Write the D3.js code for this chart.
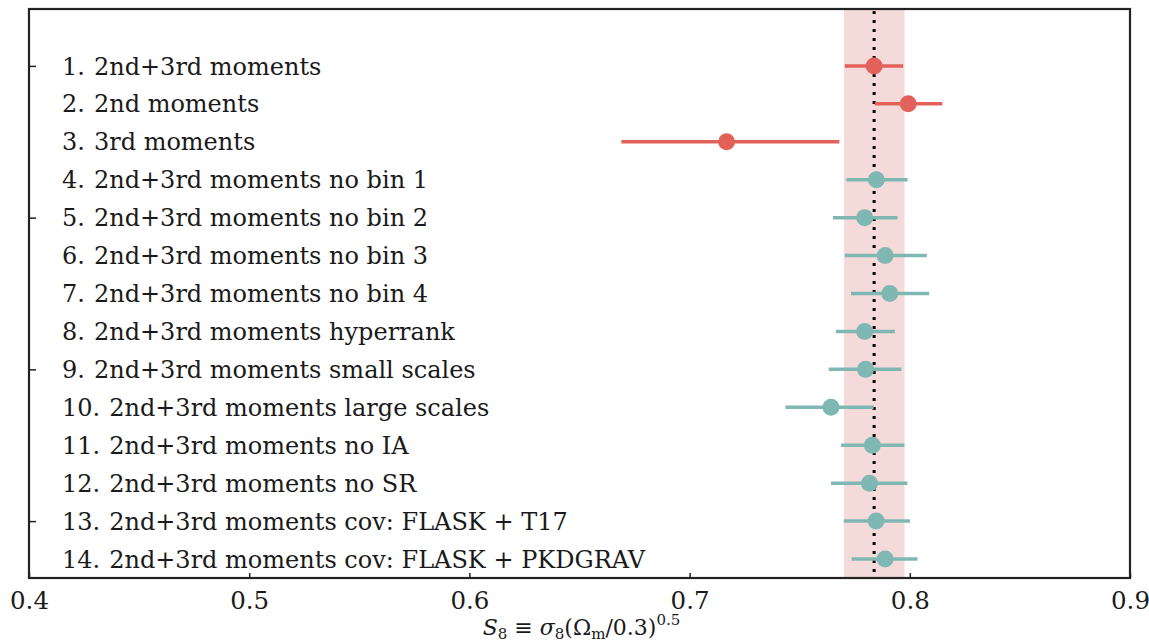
<!DOCTYPE html>
<html>
<head>
<meta charset="utf-8">
<script src="https://cdn.jsdelivr.net/npm/d3@7"></script>
<style>
  body { margin: 0; background: #fff; }
  svg { display: block; }
  text { font-family: "DejaVu Serif", "Liberation Serif", serif; fill: #1a1a1a; }
</style>
</head>
<body>
<svg id="chart" width="1149" height="642"></svg>
<script>
// S8 constraints from moment-based analyses
const itemNumbers = ["1.", "2.", "3.", "4.", "5.", "6.", "7.", "8.", "9.", "10.", "11.", "12.", "13.", "14."];
const labels = [
  "2nd+3rd moments",
  "2nd moments",
  "3rd moments",
  "2nd+3rd moments no bin 1",
  "2nd+3rd moments no bin 2",
  "2nd+3rd moments no bin 3",
  "2nd+3rd moments no bin 4",
  "2nd+3rd moments hyperrank",
  "2nd+3rd moments small scales",
  "2nd+3rd moments large scales",
  "2nd+3rd moments no IA",
  "2nd+3rd moments no SR",
  "2nd+3rd moments cov: FLASK + T17",
  "2nd+3rd moments cov: FLASK + PKDGRAV"
];
const s8Mean = [0.7838, 0.7993, 0.7168, 0.7848, 0.7795, 0.7888, 0.7909, 0.7795, 0.7799, 0.7642, 0.7830, 0.7817, 0.7847, 0.7888];
const s8Low  = [0.7705, 0.7841, 0.6690, 0.7712, 0.7651, 0.7705, 0.7733, 0.7664, 0.7632, 0.7435, 0.7688, 0.7642, 0.7700, 0.7736];
const s8High = [0.7970, 0.8148, 0.7680, 0.7990, 0.7944, 0.8077, 0.8088, 0.7932, 0.7962, 0.7836, 0.7976, 0.7989, 0.8001, 0.8035];
const group  = ["base", "base", "base", "var", "var", "var", "var", "var", "var", "var", "var", "var", "var", "var"];

// Fiducial reference value and its 1-sigma band
const fiducial = 0.7838;
const bandLow = 0.7701;
const bandHigh = 0.7976;

const xTicks = [0.4, 0.5, 0.6, 0.7, 0.8, 0.9];
const yTickRows = [1, 5, 9, 13];

const colors = { base: "#e2625a", var: "#7fb8b3" };

const margin = { left: 29, right: 19, top: 9, bottom: 64 };
const W = 1149, H = 642;
const svg = d3.select("#chart");

const x = d3.scaleLinear().domain([0.4, 0.9]).range([margin.left, W - margin.right]);
const y = d3.scaleLinear().domain([-0.5, 14.5]).range([margin.top, H - margin.bottom]);

const rows = labels.map((l, i) => ({
  num: itemNumbers[i], label: l, row: i + 1, mean: s8Mean[i], lo: s8Low[i], hi: s8High[i], g: group[i]
}));

// reference band and dotted line
svg.append("rect")
  .attr("x", x(bandLow)).attr("y", y(-0.5))
  .attr("width", x(bandHigh) - x(bandLow))
  .attr("height", y(14.5) - y(-0.5))
  .attr("fill", "#f5dada");

svg.append("line")
  .attr("x1", x(fiducial)).attr("x2", x(fiducial))
  .attr("y1", y(-0.5) + 2).attr("y2", y(14.5))
  .attr("stroke", "#000").attr("stroke-width", 3)
  .attr("stroke-dasharray", "3,6");

// error bars
svg.append("g").selectAll("line").data(rows).join("line")
  .attr("x1", d => x(d.lo)).attr("x2", d => x(d.hi))
  .attr("y1", d => y(d.row)).attr("y2", d => y(d.row))
  .attr("stroke", d => colors[d.g]).attr("stroke-width", 3.5);

// central values
svg.append("g").selectAll("circle").data(rows).join("circle")
  .attr("cx", d => x(d.mean)).attr("cy", d => y(d.row))
  .attr("r", 8.5)
  .attr("fill", d => colors[d.g]);

// row labels: item number followed by description
const lab = svg.append("g").selectAll("text").data(rows).join("text")
  .attr("x", 62).attr("y", d => y(d.row))
  .attr("dy", "0.36em")
  .attr("font-size", 24);
lab.append("tspan").text(d => d.num);
lab.append("tspan").attr("dx", 9).text(d => d.label);

// x axis with inward ticks
const xAxis = svg.append("g")
  .attr("transform", `translate(0,${y(14.5)})`)
  .call(d3.axisBottom(x).tickValues(xTicks).tickFormat(d3.format(".1f")).tickSizeInner(-5).tickSizeOuter(0).tickPadding(14));
xAxis.select(".domain").remove();
xAxis.selectAll(".tick line").attr("stroke", "#222").attr("stroke-width", 1.5);
xAxis.selectAll(".tick text").attr("font-size", 24.5).attr("font-family", "DejaVu Serif").attr("fill", "#1a1a1a");

// y axis ticks (no labels)
const yAxis = svg.append("g")
  .attr("transform", `translate(${x(0.4)},0)`)
  .call(d3.axisLeft(y).tickValues(yTickRows).tickFormat("").tickSizeInner(-7).tickSizeOuter(0));
yAxis.select(".domain").remove();
yAxis.selectAll(".tick line").attr("stroke", "#222").attr("stroke-width", 1.5);

// frame
svg.append("rect")
  .attr("x", x(0.4)).attr("y", y(-0.5))
  .attr("width", x(0.9) - x(0.4)).attr("height", y(14.5) - y(-0.5))
  .attr("fill", "none").attr("stroke", "#222").attr("stroke-width", 2.2);

// axis title: S8 = sigma8 (Omega_m / 0.3)^0.5
const title = svg.append("text")
  .attr("x", (x(0.4) + x(0.9)) / 2 + 2).attr("y", 635)
  .attr("text-anchor", "middle").attr("font-size", 22);
title.append("tspan").attr("font-style", "italic").text("S");
title.append("tspan").attr("font-size", 15).attr("dy", 4).text("8");
title.append("tspan").attr("dy", -4).text(" \u2261 ");
title.append("tspan").attr("font-style", "italic").text("\u03C3");
title.append("tspan").attr("font-size", 15).attr("dy", 4).text("8");
title.append("tspan").attr("dy", -4).text("(\u03A9");
title.append("tspan").attr("font-size", 15).attr("dy", 4).text("m");
title.append("tspan").attr("dy", -4).text("/0.3)");
title.append("tspan").attr("font-size", 15).attr("dy", -10).text("0.5");
</script>
</body>
</html>
